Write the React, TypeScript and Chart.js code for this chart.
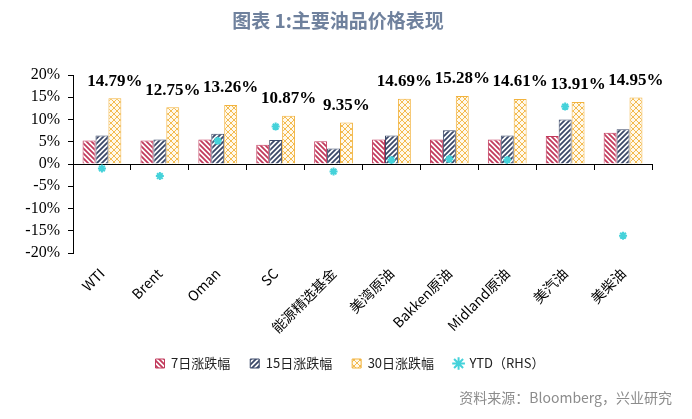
import React, { useEffect, useRef } from 'react';
import { Chart, registerables } from 'chart.js';

Chart.register(...registerables);

const categories = ['WTI', 'Brent', 'Oman', 'SC', '能源精选基金', '美湾原油', 'Bakken原油', 'Midland原油', '美汽油', '美柴油'];
const change7d = [5.3, 5.3, 5.5, 4.3, 5.1, 5.5, 5.5, 5.5, 6.3, 7.0];
const change15d = [6.4, 5.5, 6.8, 5.4, 3.5, 6.4, 7.6, 6.4, 10.0, 7.8];
const change30d = [14.79, 12.75, 13.26, 10.87, 9.35, 14.69, 15.28, 14.61, 13.91, 14.95];
const ytd = [-1.0, -2.7, 5.2, 8.4, -1.7, 0.9, 1.1, 0.9, 12.9, -16.1];
const yTicks = [-20, -15, -10, -5, 0, 5, 10, 15, 20];
const seriesNames = ['7日涨跌幅', '15日涨跌幅', '30日涨跌幅', 'YTD（RHS）'];
const titleText = '图表 1:主要油品价格表现';
const sourceText = '资料来源：Bloomberg，兴业研究';

const RED = '#c23a5c';
const NAVY = '#3b4868';
const ORANGE = '#f2b33e';
const CYAN = '#45d2da';
const CJK = '"Noto Sans CJK SC", "Noto Sans", sans-serif';
const SERIF = '"Times New Roman", "Liberation Serif", serif';

function stripe(color: string, forward: boolean, size = 5, lw = 1.8) {
  const c = document.createElement('canvas');
  c.width = size;
  c.height = size;
  const x = c.getContext('2d')!;
  x.fillStyle = '#ffffff';
  x.fillRect(0, 0, size, size);
  x.strokeStyle = color;
  x.lineWidth = lw;
  x.beginPath();
  if (forward) {
    x.moveTo(0, size); x.lineTo(size, 0);
    x.moveTo(-size, size); x.lineTo(size, -size);
    x.moveTo(0, 2 * size); x.lineTo(2 * size, 0);
  } else {
    x.moveTo(0, 0); x.lineTo(size, size);
    x.moveTo(-size, 0); x.lineTo(size, 2 * size);
    x.moveTo(0, -size); x.lineTo(2 * size, size);
  }
  x.stroke();
  return x.createPattern(c, 'repeat')!;
}

function cross(color: string, size = 6) {
  const c = document.createElement('canvas');
  c.width = size;
  c.height = size;
  const x = c.getContext('2d')!;
  x.fillStyle = '#fff9ec';
  x.fillRect(0, 0, size, size);
  x.strokeStyle = color;
  x.lineWidth = 0.9;
  x.beginPath();
  x.moveTo(0, 0); x.lineTo(size, size);
  x.moveTo(0, size); x.lineTo(size, 0);
  x.stroke();
  return x.createPattern(c, 'repeat')!;
}

const textPlugin = {
  id: 'extraTexts',
  afterDatasetsDraw(chart: any) {
    const ctx = chart.ctx;
    const meta = chart.getDatasetMeta(2);
    ctx.save();
    ctx.font = `bold 17px ${SERIF}`;
    ctx.fillStyle = '#000';
    ctx.textAlign = 'center';
    ctx.textBaseline = 'middle';
    meta.data.forEach((bar: any, i: number) => {
      ctx.fillText(change30d[i].toFixed(2) + '%', bar.x, bar.y - 17);
    });
    ctx.restore();
  },
  afterDraw(chart: any) {
    const ctx = chart.ctx;
    ctx.save();
    ctx.font = `bold 19px ${CJK}`;
    ctx.fillStyle = '#6f819d';
    ctx.textAlign = 'center';
    ctx.textBaseline = 'middle';
    ctx.fillText(titleText, 338, 21);
    ctx.font = `14px ${CJK}`;
    ctx.fillStyle = '#8c8c8c';
    ctx.textAlign = 'right';
    ctx.fillText(sourceText, 672, 398);
    ctx.restore();
  },
};

export default function App() {
  const ref = useRef<HTMLCanvasElement>(null);

  useEffect(() => {
    if (!ref.current) return;
    const ctx = ref.current.getContext('2d')!;
    const p7 = stripe(RED, false);
    const p15 = stripe(NAVY, true);
    const p30 = cross(ORANGE);

    const chart = new Chart(ctx, {
      type: 'bar',
      data: {
        labels: categories,
        datasets: [
          { label: seriesNames[0], data: change7d, backgroundColor: p7, borderColor: RED, borderWidth: 1, categoryPercentage: 0.67, barPercentage: 1 },
          { label: seriesNames[1], data: change15d, backgroundColor: p15, borderColor: NAVY, borderWidth: 1, categoryPercentage: 0.67, barPercentage: 1 },
          { label: seriesNames[2], data: change30d, backgroundColor: p30, borderColor: ORANGE, borderWidth: 1, categoryPercentage: 0.67, barPercentage: 1 },
          {
            type: 'line' as any, label: seriesNames[3], data: ytd, showLine: false, order: -1,
            yAxisID: 'y2',
            pointStyle: 'star', pointRadius: 4, pointBorderWidth: 2,
            borderColor: CYAN, backgroundColor: CYAN,
          } as any,
        ],
      },
      options: {
        responsive: false,
        animation: false,
        layout: { padding: { left: 20, right: 12, top: 75, bottom: 39 } },
        plugins: {
          tooltip: { enabled: false },
          title: { display: false },
          legend: {
            position: 'bottom',
            labels: {
              usePointStyle: true,
              boxWidth: 9,
              boxHeight: 9,
              padding: 20,
              color: '#222',
              font: { family: CJK, size: 13 },
              generateLabels: (c: any) =>
                c.data.datasets.map((ds: any, i: number) => ({
                  text: ds.label,
                  fillStyle: ds.backgroundColor,
                  strokeStyle: ds.borderColor,
                  lineWidth: i === 3 ? 2 : 1,
                  pointStyle: i === 3 ? 'star' : 'rect',
                  hidden: false,
                  datasetIndex: i,
                  fontColor: '#222',
                })),
            },
          },
        },
        scales: {
          x: {
            position: 'bottom',
            grid: { display: false, drawTicks: false },
            border: { display: false },
            ticks: {
              autoSkip: false,
              minRotation: 45,
              maxRotation: 45,
              padding: 12,
              color: '#000',
              font: { family: CJK, size: 14 },
            },
            afterFit: (s: any) => { s.height = 84; },
          },
          x2: {
            type: 'category',
            position: { y: 0 } as any,
            offset: true,
            grid: { offset: true, drawOnChartArea: false, drawTicks: true, tickLength: 5, color: '#000' },
            border: { display: true, color: '#000', width: 1 },
            ticks: { display: false },
            afterFit: (s: any) => { s.height = 0; },
          },
          y: {
            min: -20,
            max: 20,
            afterBuildTicks: (s: any) => { s.ticks = yTicks.map((v) => ({ value: v })); },
            grid: { drawOnChartArea: false, drawTicks: true, tickLength: 5, color: '#000' },
            border: { display: true, color: '#000', width: 1 },
            ticks: {
              padding: 8,
              color: '#000',
              font: { family: SERIF, size: 16 },
              callback: (v: any) => v + '%',
            },
            afterFit: (s: any) => { s.width = 53; },
          },
          y2: {
            position: 'right',
            min: -20,
            max: 20,
            grid: { display: false, drawTicks: false },
            border: { display: false },
            ticks: { display: false },
            afterFit: (s: any) => { s.width = 28; },
          },
        },
      } as any,
      plugins: [textPlugin],
    });
    return () => chart.destroy();
  }, []);

  return (
    <div style={{ position: 'fixed', left: 0, top: 0, width: 692, height: 419, background: '#fff' }}>
      <canvas ref={ref} width={692} height={419} style={{ display: 'block' }} />
    </div>
  );
}
